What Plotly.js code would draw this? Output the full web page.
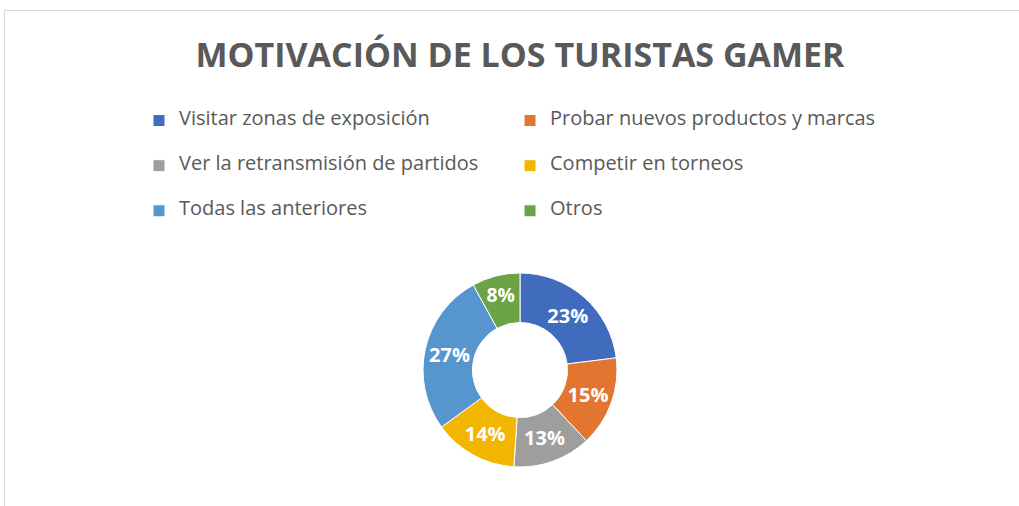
<!DOCTYPE html>
<html>
<head>
<meta charset="utf-8">
<script src="https://cdn.plot.ly/plotly-3.0.1.min.js"></script>
<style>html,body{margin:0;padding:0;background:#fff;}#chart{width:1019px;height:506px;}</style>
</head>
<body>
<div id="chart"></div>
<script>
var categories = ["Visitar zonas de exposición", "Probar nuevos productos y marcas", "Ver la retransmisión de partidos", "Competir en torneos", "Todas las anteriores", "Otros"];
var values = [23, 15, 13, 14, 27, 8];
var colors = ["#416CBD", "#E27630", "#9E9E9E", "#F2B600", "#5695CE", "#6BA444"];

var W = 1019, H = 506;
// legend labels: pad lines so rows are spaced like the reference
var legendLabels = categories.map(function (c) {
  return " <br><span style=\"font-size:20px\">" + c + "</span><br> ";
});

var trace = {
  type: "pie",
  labels: legendLabels,
  values: values,
  sort: false,
  direction: "clockwise",
  rotation: 0,
  hole: 0.49,
  marker: { colors: colors, line: { color: "#ffffff", width: 1 } },
  texttemplate: "%{percent:.0%}",
  textposition: "inside",
  insidetextorientation: "horizontal",
  textfont: { family: "Open Sans, sans-serif", size: 20, color: "#ffffff", weight: "bold" },
  hoverinfo: "none",
  domain: { x: [423 / W, 617 / W], y: [(H - 467) / H, (H - 273) / H] }
};

var layout = {
  width: W, height: H,
  margin: { l: 0, r: 0, t: 0, b: 0 },
  paper_bgcolor: "#ffffff",
  showlegend: true,
  title: {
    text: "<b>MOTIVACIÓN DE LOS TURISTAS GAMER</b>",
    font: { family: "Open Sans, sans-serif", size: 34, color: "#595959" },
    x: 520 / W, xanchor: "center", xref: "paper",
    y: 1 - 55 / H, yanchor: "middle", yref: "container"
  },
  legend: {
    orientation: "h",
    x: 139 / W, xanchor: "left",
    y: 1 - 93 / H, yanchor: "top",
    entrywidth: 326, entrywidthmode: "pixels",
    font: { family: "Open Sans, sans-serif", size: 10.8, color: "#595959" },
    bgcolor: "rgba(0,0,0,0)",
    traceorder: "normal"
  },
  shapes: [
    { type: "line", xref: "paper", yref: "paper", x0: 4 / W, x1: 1, y0: 1 - 10.5 / H, y1: 1 - 10.5 / H, line: { color: "#D9D9D9", width: 1 } },
    { type: "line", xref: "paper", yref: "paper", x0: 4.5 / W, x1: 4.5 / W, y0: 0, y1: 1 - 10.5 / H, line: { color: "#D9D9D9", width: 1 } }
  ]
};

Plotly.newPlot("chart", [trace], layout, { displayModeBar: false, staticPlot: true });
</script>
</body>
</html>
